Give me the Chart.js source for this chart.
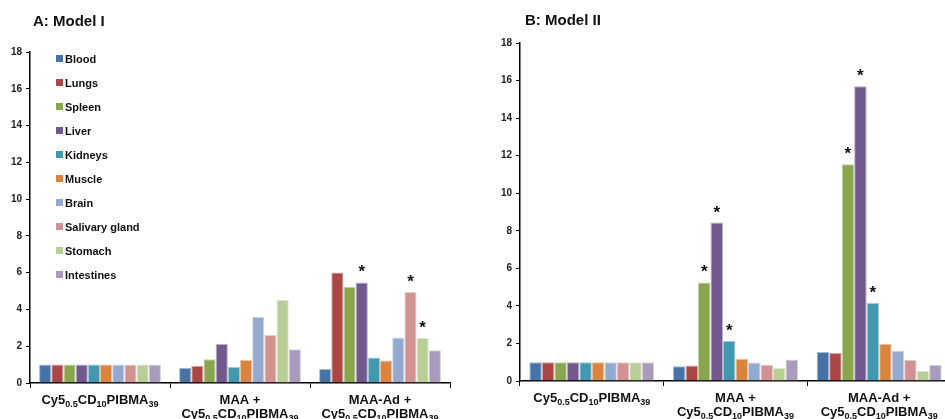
<!DOCTYPE html>
<html>
<head>
<meta charset="utf-8">
<script src="https://cdn.jsdelivr.net/npm/chart.js@4.4.0/dist/chart.umd.min.js"></script>
<style>
html, body { margin:0; padding:0; background:#fff; overflow:hidden; width:945px; height:419px; }
canvas { position:absolute; top:0; }
.title { position:absolute; font: bold 15px "Liberation Sans", Arial, sans-serif; color:#111; line-height:15px; white-space:nowrap; }
.item { position:absolute; left:56px; font: bold 11px "Liberation Sans", Arial, sans-serif; color:#111; line-height:12px; white-space:nowrap; }
.item span { display:inline-block; width:7px; height:7px; margin-right:2px; vertical-align:1px; }
</style>
</head>
<body>
<canvas id="chartA" width="470" height="419" style="left:0"></canvas>
<canvas id="chartB" width="481" height="419" style="left:470px"></canvas>
<div class="title" style="left:33px; top:13px">A: Model I</div>
<div class="title" style="left:525px; top:12px">B: Model II</div>
<div id="legend"></div>
<script>
// organs = one dataset each, groups = x categories
const organs = ['Blood', 'Lungs', 'Spleen', 'Liver', 'Kidneys', 'Muscle', 'Brain', 'Salivary gland', 'Stomach', 'Intestines'];
const organColors = ['#4572A7', '#AA4643', '#89A54E', '#71588F', '#4198AF', '#DB843D', '#93A9CF', '#D19392', '#B9CD96', '#A99BBD'];
const groups = ['Cy5_{0.5}CD_{10}PIBMA_{39}', 'MAA +|Cy5_{0.5}CD_{10}PIBMA_{39}', 'MAA-Ad +|Cy5_{0.5}CD_{10}PIBMA_{39}'];
const yMax = 18;
const yStep = 2;

// Model I values (per organ, same order as organs)
const modelI_control = [1, 1, 1, 1, 1, 1, 1, 1, 1, 1];
const modelI_maa = [0.83, 0.94, 1.29, 2.12, 0.87, 1.25, 3.60, 2.61, 4.51, 1.83];
const modelI_maaAd = [0.76, 6.01, 5.24, 5.47, 1.38, 1.23, 2.48, 4.95, 2.45, 1.78];
const modelI_stars = [[], [], [3, 7, 8]];

// Model II values
const modelII_control = [1, 1, 1, 1, 1, 1, 1, 1, 1, 1];
const modelII_maa = [0.78, 0.82, 5.25, 8.44, 2.15, 1.19, 0.98, 0.87, 0.69, 1.15];
const modelII_maaAd = [1.54, 1.49, 11.54, 15.7, 4.15, 1.99, 1.61, 1.12, 0.53, 0.85];
const modelII_stars = [[], [2, 3, 4], [2, 3, 4]];

const FONT = '"Liberation Sans", Arial, sans-serif';

// lighter edge like the excel bars
function tint(hex, amt){
    let n = parseInt(hex.slice(1), 16);
    let r = (n >> 16) & 255, g = (n >> 8) & 255, b = n & 255;
    r = Math.round(r + (255 - r) * amt);
    g = Math.round(g + (255 - g) * amt);
    b = Math.round(b + (255 - b) * amt);
    return 'rgb(' + r + ',' + g + ',' + b + ')';
}

// legend (sits inside panel A)
let legendHtml = '';
organs.forEach(function(name, i){
    legendHtml += '<div class="item" style="top:' + (53 + i * 24) + 'px"><span style="background:' + organColors[i] + '"></span>' + name + '</div>';
});
document.getElementById('legend').innerHTML = legendHtml;

// draws "Cy5_{0.5}..." with real subscripts, centred on x
function drawSubText(ctx, text, x, y){
    let parts = [];
    let re = /_\{([^}]*)\}/g, last = 0, m;
    while ((m = re.exec(text)) !== null) {
        if (m.index > last) parts.push({t: text.slice(last, m.index), sub: false});
        parts.push({t: m[1], sub: true});
        last = re.lastIndex;
    }
    if (last < text.length) parts.push({t: text.slice(last), sub: false});
    let total = 0;
    parts.forEach(function(p){
        ctx.font = p.sub ? 'bold 9px ' + FONT : 'bold 13px ' + FONT;
        p.w = ctx.measureText(p.t).width;
        total += p.w;
    });
    let cx = x - total / 2;
    parts.forEach(function(p){
        ctx.font = p.sub ? 'bold 9px ' + FONT : 'bold 13px ' + FONT;
        ctx.fillText(p.t, cx, p.sub ? y + 3 : y);
        cx += p.w;
    });
}

const groupLabels = {
    id: 'groupLabels',
    afterDraw: function(chart){
        const ctx = chart.ctx;
        const xs = chart.scales.x;
        ctx.save();
        ctx.fillStyle = '#111';
        ctx.textBaseline = 'alphabetic';
        ctx.textAlign = 'left';
        groups.forEach(function(g, i){
            const x = xs.getPixelForValue(i);
            g.split('|').forEach(function(line, li){
                drawSubText(ctx, line, x, chart.chartArea.bottom + 21 + li * 14);
            });
        });
        ctx.restore();
    }
};

const starMarks = {
    id: 'starMarks',
    afterDatasetsDraw: function(chart, args, opts){
        const ctx = chart.ctx;
        ctx.save();
        ctx.fillStyle = '#111';
        ctx.font = 'bold 17px ' + FONT;
        ctx.textAlign = 'center';
        ctx.textBaseline = 'alphabetic';
        opts.stars.forEach(function(list, g){
            list.forEach(function(k){
                const bar = chart.getDatasetMeta(k).data[g];
                ctx.fillText('*', bar.x, bar.y - 5);
            });
        });
        ctx.restore();
    }
};

function makeChart(id, rows, stars, yWidth, xHeight, padTop, padRight){
    let datasets = organs.map(function(name, k){
        return {
            label: name,
            data: rows.map(function(r){ return r[k]; }),
            backgroundColor: organColors[k],
            borderColor: tint(organColors[k], 0.5),
            borderWidth: 1,
            borderSkipped: 'bottom',
            categoryPercentage: 0.87,
            barPercentage: 1.0
        };
    });
    return new Chart(document.getElementById(id), {
        type: 'bar',
        data: { labels: groups, datasets: datasets },
        plugins: [groupLabels, starMarks],
        options: {
            responsive: false,
            animation: false,
            devicePixelRatio: 1,
            layout: { padding: { top: padTop, right: padRight, left: 0, bottom: 0 } },
            plugins: {
                legend: { display: false },
                tooltip: { enabled: false },
                starMarks: { stars: stars }
            },
            scales: {
                x: {
                    ticks: { display: false },
                    grid: { display: true, drawOnChartArea: false, drawTicks: true, tickLength: 5, color: '#000', offset: true },
                    border: { display: true, color: '#000', width: 1.5 },
                    afterFit: function(scale){ scale.height = xHeight; }
                },
                y: {
                    min: 0,
                    max: yMax,
                    ticks: { stepSize: yStep, padding: 4, color: '#222', font: { family: FONT, size: 10, weight: 'bold' } },
                    grid: { display: true, drawOnChartArea: false, drawTicks: true, tickLength: 4, color: '#000' },
                    border: { display: true, color: '#000', width: 1.5 },
                    afterFit: function(scale){ scale.width = yWidth; }
                }
            }
        }
    });
}

makeChart('chartA', [modelI_control, modelI_maa, modelI_maaAd], modelI_stars, 30, 36, 52, 20);
makeChart('chartB', [modelII_control, modelII_maa, modelII_maaAd], modelII_stars, 50, 38, 43, 0);
</script>
</body>
</html>
